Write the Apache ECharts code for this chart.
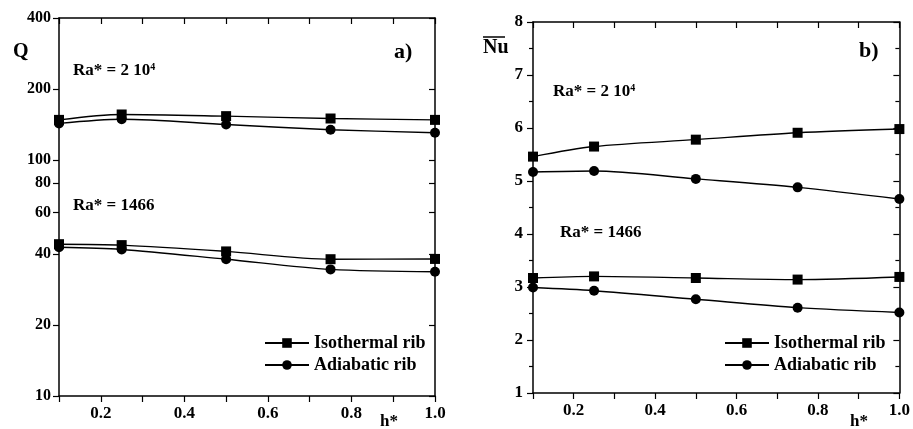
<!DOCTYPE html>
<html>
<head>
<meta charset="utf-8">
<script src="https://cdn.jsdelivr.net/npm/echarts@6/dist/echarts.min.js"></script>
<style>
  html, body { margin: 0; padding: 0; background: #fff; }
  #chart { width: 913px; height: 429px; }
</style>
</head>
<body>
<div id="chart"></div>
<script>
// h* positions shared by every curve
var hStar = [0.1, 0.25, 0.5, 0.75, 1.0];

// panel a) : Q (log scale)
var qIsoHigh = [148, 156, 153.5, 150, 148];
var qAdiHigh = [143, 149, 141.5, 134.5, 130.5];
var qIsoLow = [44, 43.6, 41, 38, 38.1];
var qAdiLow = [42.7, 41.8, 38, 34.4, 33.6];
var qTicks = [10, 20, 40, 60, 80, 100, 200, 400];

// panel b) : mean Nu
var nuIsoHigh = [5.46, 5.65, 5.78, 5.91, 5.98];
var nuAdiHigh = [5.17, 5.19, 5.04, 4.88, 4.66];
var nuIsoLow = [3.17, 3.2, 3.17, 3.14, 3.19];
var nuAdiLow = [2.99, 2.93, 2.77, 2.61, 2.52];

var hTicks = [0.2, 0.4, 0.6, 0.8, 1.0];

var FONT = "'Liberation Serif', 'Times New Roman', serif";

function pts(arr) {
  return hStar.map(function (x, i) { return [x, arr[i]]; });
}

function curve(name, arr, xi, yi) {
  return {
    name: name,
    type: 'line',
    xAxisIndex: xi,
    yAxisIndex: yi,
    data: pts(arr),
    smooth: 0.3,
    symbol: name === 'Isothermal rib' ? 'rect' : 'circle',
    symbolSize: 10,
    showSymbol: true,
    lineStyle: { color: '#000', width: 1.4 },
    itemStyle: { color: '#000' },
    z: 3
  };
}

var axisLine = { show: true, onZero: false, lineStyle: { color: '#000', width: 1.5 } };

function hAxis(grid, bottom) {
  return {
    gridIndex: grid,
    type: 'value',
    position: bottom ? 'bottom' : 'top',
    min: 0.1,
    max: 1.0,
    interval: 0.1,
    axisLine: axisLine,
    axisTick: { show: true, inside: !bottom, length: 6, lineStyle: { color: '#000', width: 1.2 } },
    axisLabel: bottom ? {
      show: true,
      customValues: hTicks,
      formatter: function (v) { return v.toFixed(1); },
      color: '#000',
      fontFamily: FONT,
      fontWeight: 'bold',
      fontSize: 17,
      margin: 9
    } : { show: false },
    splitLine: { show: false }
  };
}

function legendAt(left) {
  return {
    left: left, top: 334, orient: 'vertical', padding: 0,
    itemWidth: 44, itemHeight: 12, itemGap: 4,
    data: ['Isothermal rib', 'Adiabatic rib'],
    textStyle: { color: '#000', fontFamily: FONT, fontWeight: 'bold', fontSize: 18 }
  };
}

var supRich = { s: { fontSize: 10, fontWeight: 'bold', fontFamily: FONT, verticalAlign: 'top', padding: [0, 0, 8, 0] } };

var chart = echarts.init(document.getElementById('chart'));

var option = {
  animation: false,
  backgroundColor: '#fff',
  grid: [
    { left: 59, top: 18, width: 376, height: 378 },
    { left: 533, top: 22, width: 370, height: 371 }
  ],
  xAxis: [hAxis(0, true), hAxis(0, false), hAxis(1, true), hAxis(1, false)],
  yAxis: [
    {
      gridIndex: 0, type: 'log', position: 'left', min: 10, max: 400,
      axisLine: axisLine,
      axisTick: { show: true, customValues: qTicks, length: 6, lineStyle: { color: '#000', width: 1.2 } },
      axisLabel: {
        customValues: qTicks, color: '#000', fontFamily: FONT, fontWeight: 'bold', fontSize: 16, margin: 8
      },
      splitLine: { show: false }
    },
    {
      gridIndex: 0, type: 'log', position: 'right', min: 10, max: 400,
      axisLine: axisLine,
      axisTick: { show: true, inside: true, customValues: qTicks, length: 6, lineStyle: { color: '#000', width: 1.2 } },
      axisLabel: { show: false },
      splitLine: { show: false }
    },
    {
      gridIndex: 1, type: 'value', position: 'left', min: 1, max: 8, interval: 1,
      axisLine: axisLine,
      axisTick: { show: true, length: 6, lineStyle: { color: '#000', width: 1.2 } },
      minorTick: { show: true, splitNumber: 2, length: 4, lineStyle: { color: '#000', width: 1.2 } },
      axisLabel: { color: '#000', fontFamily: FONT, fontWeight: 'bold', fontSize: 17, margin: 10 },
      splitLine: { show: false }
    },
    {
      gridIndex: 1, type: 'value', position: 'right', min: 1, max: 8, interval: 1,
      axisLine: axisLine,
      axisTick: { show: true, inside: true, length: 6, lineStyle: { color: '#000', width: 1.2 } },
      minorTick: { show: true, splitNumber: 2, length: 4, lineStyle: { color: '#000', width: 1.2 } },
      axisLabel: { show: false },
      splitLine: { show: false }
    }
  ],
  legend: [legendAt(264), legendAt(724)],
  series: [
    curve('Isothermal rib', qIsoHigh, 0, 0),
    curve('Adiabatic rib', qAdiHigh, 0, 0),
    curve('Isothermal rib', qIsoLow, 0, 0),
    curve('Adiabatic rib', qAdiLow, 0, 0),
    curve('Isothermal rib', nuIsoHigh, 2, 2),
    curve('Adiabatic rib', nuAdiHigh, 2, 2),
    curve('Isothermal rib', nuIsoLow, 2, 2),
    curve('Adiabatic rib', nuAdiLow, 2, 2)
  ],
  graphic: [
    { type: 'text', left: 13, top: 42, style: { text: 'Q', fill: '#000', font: 'bold 20px ' + FONT } },
    { type: 'text', left: 394, top: 41, style: { text: 'a)', fill: '#000', font: 'bold 22px ' + FONT } },
    { type: 'text', left: 73, top: 62, style: { text: 'Ra* = 2 10{s|4}', fill: '#000', font: 'bold 17px ' + FONT, rich: supRich } },
    { type: 'text', left: 73, top: 197, style: { text: 'Ra* = 1466', fill: '#000', font: 'bold 17px ' + FONT } },
    { type: 'text', left: 380, top: 413, style: { text: 'h*', fill: '#000', font: 'bold 17px ' + FONT } },

    { type: 'text', left: 483, top: 38, style: { text: 'Nu', fill: '#000', font: 'bold 20px ' + FONT } },
    { type: 'line', shape: { x1: 483, y1: 37, x2: 505, y2: 37 }, style: { stroke: '#000', lineWidth: 1.5 } },
    { type: 'text', left: 859, top: 40, style: { text: 'b)', fill: '#000', font: 'bold 22px ' + FONT } },
    { type: 'text', left: 553, top: 83, style: { text: 'Ra* = 2 10{s|4}', fill: '#000', font: 'bold 17px ' + FONT, rich: supRich } },
    { type: 'text', left: 560, top: 224, style: { text: 'Ra* = 1466', fill: '#000', font: 'bold 17px ' + FONT } },
    { type: 'text', left: 850, top: 413, style: { text: 'h*', fill: '#000', font: 'bold 17px ' + FONT } }
  ]
};

chart.setOption(option);
</script>
</body>
</html>
